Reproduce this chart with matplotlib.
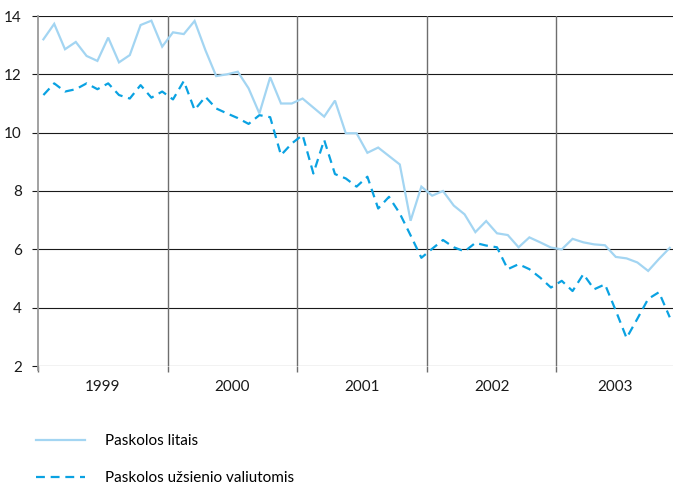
import numpy as np
import matplotlib
matplotlib.use("Agg")
import matplotlib.pyplot as plt
from matplotlib.lines import Line2D

# monthly values, Jan 1999 .. Nov 2003
litais = [
    13.2, 13.73, 12.86, 13.11, 12.63, 12.46, 13.26, 12.41, 12.66, 13.69, 13.84, 12.95,   # 1999
    13.44, 13.38, 13.83, 12.83, 11.94, 12.0, 12.09, 11.52, 10.66, 11.9, 11.0, 11.0,      # 2000
    11.17, 10.86, 10.55, 11.1, 9.98, 9.98, 9.31, 9.49, 9.2, 8.91, 6.98, 8.15,           # 2001
    7.84, 8.0, 7.5, 7.2, 6.59, 6.97, 6.55, 6.49, 6.07, 6.41, 6.24, 6.06,                 # 2002
    6.0, 6.36, 6.24, 6.17, 6.14, 5.74, 5.69, 5.55, 5.26, 5.67, 6.05,                     # 2003
]
valiuta = [
    11.29, 11.69, 11.41, 11.49, 11.69, 11.49, 11.69, 11.29, 11.17, 11.63, 11.2, 11.41,   # 1999
    11.14, 11.77, 10.78, 11.23, 10.83, 10.66, 10.5, 10.3, 10.6, 10.53, 9.23, 9.63,       # 2000
    9.92, 8.6, 9.75, 8.58, 8.43, 8.15, 8.49, 7.4, 7.8, 7.23, 6.48, 5.71,                 # 2001
    6.02, 6.32, 6.07, 5.93, 6.22, 6.13, 6.07, 5.32, 5.49, 5.32, 5.03, 4.69,              # 2002
    4.92, 4.57, 5.15, 4.63, 4.8, 3.9, 2.96, 3.62, 4.3, 4.53, 3.67,                       # 2003
]
years = [1999, 2000, 2001, 2002, 2003]
labels = ["Paskolos litais", "Paskolos užsienio valiutomis"]

plt.rcParams['font.family'] = ['Lato', 'DejaVu Sans']

fig = plt.figure(figsize=(6.73, 4.92), dpi=100)
ax = fig.add_axes([38 / 673, 126 / 492, 635 / 673, 350 / 492])

x = 1999 + (np.arange(len(litais)) + 0.5) / 12
xmax = 2003.9

c_solid = '#a3d5f2'
c_dash = '#0aa2e2'
ax.plot(x, litais, color=c_solid, lw=1.6, solid_joinstyle='miter', zorder=3)
ax.plot(x, valiuta, color=c_dash, lw=1.6, dashes=(4, 2.6), zorder=3)

ax.set_xlim(1999, xmax)
ax.set_ylim(2, 14)
ax.set_yticks(range(2, 15, 2))
ax.grid(axis='y', color='#1a1a1a', lw=0.8)
for yr in years[1:]:
    ax.axvline(yr, color='#6e6e6e', lw=1.0, zorder=2)

ax.set_xticks(years)
ax.set_xticklabels([])
centers = [y + 0.5 for y in years[:-1]] + [(years[-1] + xmax) / 2]
ax.set_xticks(centers, minor=True)
ax.set_xticklabels([str(y) for y in years], minor=True)
ax.tick_params(axis='x', which='major', length=4, width=1.0, color='#6e6e6e')
ax.tick_params(axis='x', which='minor', length=0, pad=10, labelsize=11, labelcolor='#1a1a1a')
ax.tick_params(axis='y', length=4.5, width=0.8, color='#1a1a1a', pad=7,
               labelsize=11, labelcolor='#1a1a1a')

for s in ['top', 'right', 'bottom']:
    ax.spines[s].set_visible(False)
ax.spines['left'].set_color('#9a9a9a')
ax.spines['left'].set_linewidth(1.3)
ax.spines['left'].set_bounds(1.85, 14)

handles = [Line2D([], [], color=c_solid, lw=1.6),
           Line2D([], [], color=c_dash, lw=1.6, dashes=(4, 2.6))]
fig.legend(handles, labels, loc='upper left', bbox_to_anchor=(36 / 673, 1 - 434 / 492),
           frameon=False, fontsize=11, handlelength=3.2, handletextpad=1.3,
           labelspacing=1.5, borderpad=0, borderaxespad=0)

fig.savefig('out.png', dpi=100)
